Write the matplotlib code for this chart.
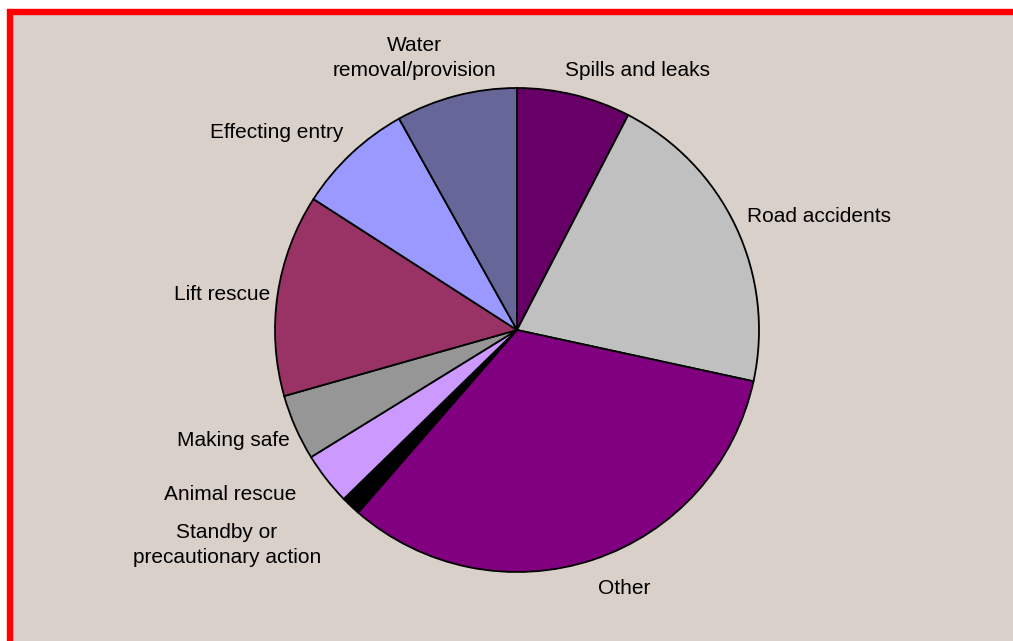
"""Pie chart: special service incidents by type."""
import matplotlib
matplotlib.use("Agg")
import matplotlib.pyplot as plt
from matplotlib.patches import Rectangle

categories = ["Spills and leaks", "Road accidents", "Other",
              "Standby or\nprecautionary action", "Animal rescue", "Making safe",
              "Lift rescue", "Effecting entry", "Water\nremoval/provision"]
shares = [7.6, 20.8, 33.0, 1.3, 3.5, 4.4, 13.5, 7.8, 8.1]

colors = ["#660066", "#c0c0c0", "#800080", "#000000", "#cc99ff",
          "#969696", "#993366", "#9999ff", "#666699"]

W, H = 1013, 641
CX, CY, R = 517, 330, 242  # pie centre / radius in pixels

# label anchor points in pixels (x, y from top), plus alignment
label_px = [(637, 71, "center"), (747, 216, "left"), (624, 588, "center"),
            (227, 545, "center"), (230, 494, "center"), (233, 440, "center"),
            (222, 294, "center"), (277, 133, "center"), (414, 58, "center")]

bg = "#d9d0ca"
fig = plt.figure(figsize=(W / 100, H / 100), dpi=100)
fig.patch.set_facecolor("white")
fig.add_artist(Rectangle((10 / W, -0.05), 1.05, (H - 12) / H + 0.05,
                         transform=fig.transFigure, facecolor=bg,
                         edgecolor="#ff0000", linewidth=4.6, clip_on=False,
                         zorder=-5))

ax = fig.add_axes([(CX - R) / W, (H - CY - R) / H, 2 * R / W, 2 * R / H])
ax.set_zorder(1)
ax.pie(shares, colors=colors, startangle=90, counterclock=False,
       wedgeprops=dict(edgecolor="black", linewidth=1.3))
ax.set_xlim(-1, 1)
ax.set_ylim(-1, 1)
ax.set_aspect("auto")
ax.axis("off")

for name, (px, py, ha) in zip(categories, label_px):
    ax.text((px - CX) / R, (CY - py) / R, name, ha=ha, va="center",
            fontsize=15, family="Liberation Sans", linespacing=1.45,
            color="black")

fig.savefig("out.png", dpi=100, facecolor=fig.get_facecolor())
